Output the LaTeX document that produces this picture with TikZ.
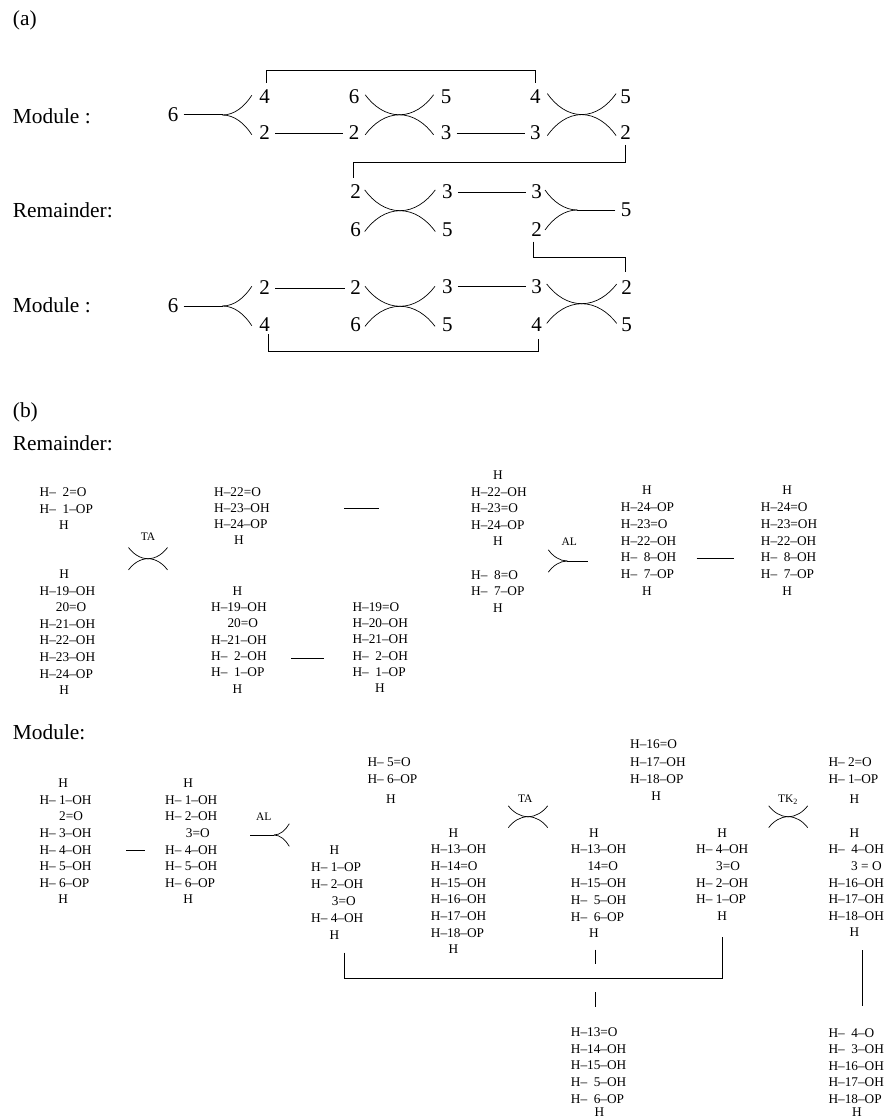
\documentclass[tikz,border=0pt]{standalone}
\usepackage{fontspec}
\setmainfont{Liberation Serif}
\newcommand{\gp}{\phantom{1}}
\newcommand{\ind}[1]{\hspace*{#1pt}}
\begin{document}
\begin{tikzpicture}[x=1pt,y=-1pt,bond/.style={line width=0.75pt},stem/.style={line width=1pt},link/.style={line width=0.75pt},rxn/.style={line width=0.7pt},digit/.style={font=\fontsize{21}{21}\selectfont,inner xsep=5.2pt,inner ysep=2pt},tag/.style={font=\fontsize{21.4}{21.4}\selectfont,anchor=west,inner sep=0pt},small/.style={font=\fontsize{11.5}{11.5}\selectfont,inner sep=0pt},block/.style={font=\fontsize{13.3}{#1}\selectfont,align=left,anchor=north west,inner sep=0pt},block/.default=16.6,
crossing/.pic={\draw[rxn] (-1,-1) .. controls (-.75,-.42) and (-.4,0) .. (0,0) .. controls (.4,0) and (.75,-.42) .. (1,-1); \draw[rxn] (-1,1) .. controls (-.75,.42) and (-.4,0) .. (0,0) .. controls (.4,0) and (.75,.42) .. (1,1);},
fork/.pic={\draw[rxn] (0,0) .. controls (.4,0) and (.75,-.42) .. (1,-1); \draw[rxn] (0,0) .. controls (.4,0) and (.75,.42) .. (1,1);}]
\useasboundingbox (0,0) rectangle (884,1118);
\node[tag] (capA) at (12.7,20) {(a)}; \node[tag] (capB) at (12.7,412) {(b)};
\node[tag] (modA) at (12.7,116) {Module :}; \node[tag] (remA) at (12.7,210) {Remainder:}; \node[tag] (modB) at (12.7,305) {Module :};
\node[tag] (remC) at (12.7,443) {Remainder:}; \node[tag] (modC) at (12.7,732) {Module:};
\node[digit] (a6) at (173,115) {6}; \node[digit] (a4) at (264.7,96.7) {4}; \node[digit] (a2) at (264.7,133) {2};
\node[digit] (b6) at (354,97) {6}; \node[digit] (b2) at (354,133) {2}; \node[digit] (b5) at (446,96.7) {5}; \node[digit] (b3) at (446,133) {3};
\node[digit] (c4) at (535.3,96.7) {4}; \node[digit] (c3) at (535.3,133) {3}; \node[digit] (c5) at (625.7,96.7) {5}; \node[digit] (c2) at (625.7,133) {2};
\node[digit] (d2) at (355.7,192) {2}; \node[digit] (d6) at (355.7,230) {6}; \node[digit] (d3) at (447.3,192) {3}; \node[digit] (d5) at (447.3,230) {5};
\node[digit] (e3) at (536.7,192) {3}; \node[digit] (e2) at (536.7,230) {2}; \node[digit] (e5) at (626,210) {5};
\node[digit] (f6) at (173,306) {6}; \node[digit] (f2) at (264.7,288) {2}; \node[digit] (f4) at (264.7,325) {4};
\node[digit] (g2) at (355.7,288) {2}; \node[digit] (g6) at (355.7,325) {6}; \node[digit] (g3) at (447.3,286.5) {3}; \node[digit] (g5) at (447.3,325) {5};
\node[digit] (h3) at (536.7,286.5) {3}; \node[digit] (h4) at (536.7,325) {4}; \node[digit] (h2) at (626.7,287.7) {2}; \node[digit] (h5) at (626.7,325) {5};
\coordinate (forkA) at (222.5,115); \coordinate (forkE) at (577.3,210); \coordinate (forkF) at (222.5,306);
\pic[xscale=29.3,yscale=19.7] at (forkA) {fork}; \pic[xscale=-32.3,yscale=20] at (forkE) {fork}; \pic[xscale=29.3,yscale=19.7] at (forkF) {fork};
\pic[xscale=34.2,yscale=20] at (399.4,114.8) {crossing}; \pic[xscale=34.4,yscale=21] at (581.7,114.6) {crossing};
\pic[xscale=35.3,yscale=20.8] at (400,210.7) {crossing}; \pic[xscale=35,yscale=20] at (400,306.3) {crossing}; \pic[xscale=35,yscale=19.7] at (581.7,303.7) {crossing};
\draw[stem] (a6)--(forkA); \draw[stem] (e5)--(forkE); \draw[stem] (f6)--(forkF);
\draw[bond] (a2)--(b2); \draw[bond] (b3)--(c3); \draw[bond] (d3)--(e3); \draw[bond] (f2)--(g2); \draw[bond] (g3)--(h3);
\draw[link,shorten <=5pt,shorten >=5pt] ([xshift=1.5pt]a4.north)--++(0,-17)-|(c4.north);
\draw[link,shorten <=2.7pt,shorten >=4.7pt] (c2.south)--++(0,20)-|([xshift=-2.4pt]d2.north);
\draw[link,shorten <=2.4pt,shorten >=6.7pt] ([xshift=-3.4pt]e2.south)--++(0,18)-|([xshift=-1.7pt]h2.north);
\draw[link,shorten >=4.7pt] ([xshift=3.8pt]f4.south)--++(0,17.7)-|([xshift=2.1pt]h4.south);
\node[block=16.8] (r1) at (39.5,487.3) {H–\gp 2=O\\H–\gp 1–OP\\\ind{19.4}H};
\node[block=16.1] (r2) at (214,487.3) {H–22=O\\H–23–OH\\H–24–OP\\\ind{19.9}H};
\node[block] (r3) at (39.5,569.6) {\ind{19.7}H\\H–19–OH\\\ind{16.2}20=O\\H–21–OH\\H–22–OH\\H–23–OH\\H–24–OP\\\ind{19.7}H};
\node[block=16.3] (r4) at (211,586.3) {\ind{21.5}H\\H–19–OH\\\ind{16.3}20=O\\H–21–OH\\H–\gp 2–OH\\H–\gp 1–OP\\\ind{21.5}H};
\node[block=16.3] (r5) at (352.3,602.3) {H–19=O\\H–20–OH\\H–21–OH\\H–\gp 2–OH\\H–\gp 1–OP\\\ind{22.6}H};
\node[block=16.5] (r6) at (471,470.9) {\ind{21.9}H\\H–22–OH\\H–23=O\\H–24–OP\\\ind{21.9}H};
\node[block=16.2] (r7) at (471,570.6) {H–\gp 8=O\\H–\gp 7–OP\\\ind{21.9}H};
\node[block=16.73] (r8) at (620.7,485.9) {\ind{21.2}H\\H–24–OP\\H–23=O\\H–22–OH\\H–\gp 8–OH\\H–\gp 7–OP\\\ind{21.2}H};
\node[block=16.73] (r9) at (760.7,485.9) {\ind{21.5}H\\H–24=O\\H–23=OH\\H–22–OH\\H–\gp 8–OH\\H–\gp 7–OP\\\ind{21.5}H};
\node[small] (ta1) at (148,537) {TA}; \pic[xscale=19.5,yscale=11.2] at (148,558.7) {crossing};
\node[small] (al1) at (569.3,541.7) {AL}; \coordinate (forkR) at (567.3,561); \coordinate (stemR) at (587.7,561);
\pic[xscale=-19,yscale=11.2] at (forkR) {fork}; \draw[stem] (forkR)--(stemR);
\draw[bond,shorten <=74.4pt,shorten >=92pt] ([yshift=7.6pt]r2.east)--([yshift=7.6pt]r2.east -| r6.west);
\draw[bond,shorten <=24.4pt,shorten >=28.3pt] ([yshift=-19.1pt]r4.east)--([yshift=-19.1pt]r4.east -| r5.west);
\draw[bond,shorten <=20pt,shorten >=26.7pt] ([yshift=-17.3pt]r8.east)--([yshift=-17.3pt]r9.west);
\node[block=16.57] (m1) at (39.3,778.9) {\ind{18.9}H\\H– 1–OH\\\ind{19.7}2=O\\H– 3–OH\\H– 4–OH\\H– 5–OH\\H– 6–OP\\\ind{18.9}H};
\node[block=16.57] (m2) at (165,778.9) {\ind{18.2}H\\H– 1–OH\\H– 2–OH\\\ind{20.7}3=O\\H– 4–OH\\H– 5–OH\\H– 6–OP\\\ind{18.2}H};
\node[block=16.9] (m3) at (367.3,757.9) {H– 5=O\\H– 6–OP\\[2.8pt]\ind{18.6}H};
\node[block=17] (m4) at (311,845.6) {\ind{18.5}H\\H– 1–OP\\H– 2–OH\\\ind{20.7}3=O\\H– 4–OH\\\ind{18.5}H};
\node[block=16.67] (m5) at (430.7,828.3) {\ind{17.8}H\\H–13–OH\\H–14=O\\H–15–OH\\H–16–OH\\H–17–OH\\H–18–OP\\\ind{17.8}H};
\node[block=17.3] (m6) at (630,739.9) {H–16=O\\H–17–OH\\H–18–OP\\\ind{21.2}H};
\node[block=16.77] (m7) at (570.7,828.3) {\ind{18.2}H\\H–13–OH\\\ind{16.6}14=O\\H–15–OH\\H–\gp 5–OH\\H–\gp 6–OP\\\ind{18.2}H};
\node[block=16.6] (m8) at (696,828.3) {\ind{21.2}H\\H– 4–OH\\\ind{20}3=O\\H– 2–OH\\H– 1–OP\\\ind{21.2}H};
\node[block=17] (m9) at (828.3,757.3) {H– 2=O\\H– 1–OP\\[3.6pt]\ind{21.2}H};
\node[block=16.6] (m10) at (828.3,828.3) {\ind{21.2}H\\H–\gp 4–OH\\\ind{22.7}3 = O\\H–16–OH\\H–17–OH\\H–18–OH\\\ind{21.2}H};
\node[block=16.7] (m11) at (570.7,1027.3) {H–13=O\\H–14–OH\\H–15–OH\\H–\gp 5–OH\\H–\gp 6–OP\\[-3.2pt]\ind{23.8}H};
\node[block=16.5] (m12) at (828.3,1028.3) {H–\gp 4–O\\H–\gp 3–OH\\H–16–OH\\H–17–OH\\H–18–OP\\[-3.2pt]\ind{23.6}H};
\node[small] (al2) at (263.7,817) {AL}; \coordinate (forkM) at (274,835); \coordinate (stemM) at (250,835);
\pic[xscale=15.3,yscale=11.3] at (forkM) {fork}; \draw[stem] (stemM)--(forkM);
\node[small] (ta2) at (525.3,799) {TA}; \pic[xscale=19.7,yscale=10.9] at (528,816.7) {crossing};
\node[small] (tk2) at (788,800) {TK\textsubscript{2}}; \pic[xscale=19.5,yscale=10.9] at (788.2,816.7) {crossing};
\draw[bond,shorten <=34.6pt,shorten >=20pt] ([yshift=-8.7pt]m1.east)--([yshift=-8.7pt]m2.west);
\draw[link,shorten <=12.9pt,shorten >=16.6pt] ([xshift=7pt]m4.south)--++(0,38.9)-|(m8.south);
\coordinate (ja) at (595.7,964.3); \coordinate (jb) at (595.7,992.3);
\draw[bond,shorten <=11.6pt] (m7.south -| ja)--(ja); \draw[bond,shorten >=20.6pt] (jb)--(m11.north -| jb);
\draw[bond,shorten <=13.3pt,shorten >=22.3pt] ([xshift=5.9pt]m10.south)--([xshift=5.9pt]m12.north);
\end{tikzpicture}
\end{document}
